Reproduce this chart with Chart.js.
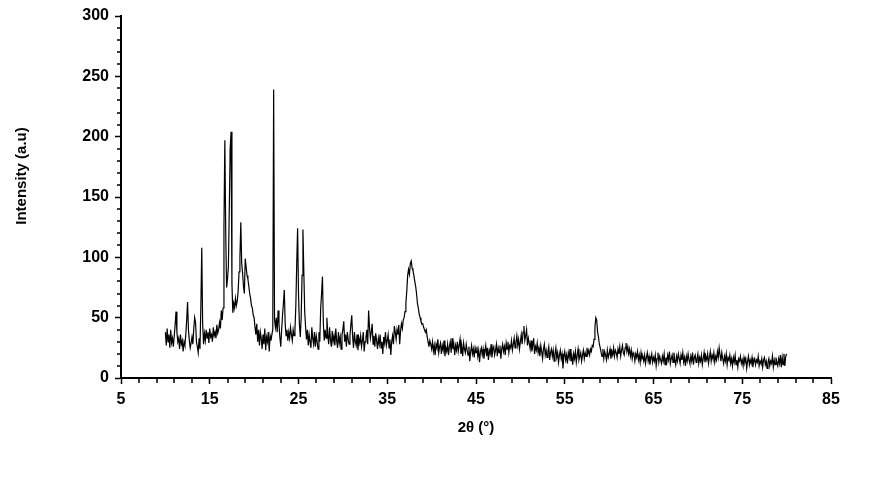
<!DOCTYPE html>
<html>
<head>
<meta charset="utf-8">
<script src="https://cdn.jsdelivr.net/npm/chart.js@4.4.1/dist/chart.umd.min.js"></script>
<style>
  html, body { margin: 0; padding: 0; background: #fff; }
  #wrap { width: 875px; height: 482px; }
</style>
</head>
<body>
<div id="wrap"><canvas id="xrd" width="875" height="482"></canvas></div>
<script>
// scan: 2theta from 10 to 80 deg, step 0.1
const scanStart = 10
const scanStep = 0.1

// intensity (a.u), one row per degree
const intensity = [
  38, 27, 41, 30, 36, 25, 40, 29, 33, 26,       // 10
  35, 44, 55, 38, 30, 33, 24, 36, 28, 31,       // 11
  22, 30, 27, 36, 48, 63, 40, 31, 25, 29,       // 12
  34, 28, 41, 50, 46, 30, 26, 21, 33, 24,       // 13
  60, 108, 45, 28, 37, 31, 40, 33, 38, 29,      // 14
  41, 34, 36, 30, 42, 35, 38, 33, 44, 37,       // 15
  40, 46, 41, 56, 48, 58, 125, 197, 120, 75,    // 16
  82, 92, 140, 190, 204, 78, 54, 62, 58, 66,    // 17
  60, 64, 72, 88, 100, 129, 95, 87, 76, 70,     // 18
  99, 92, 85, 82, 76, 70, 66, 60, 58, 52,       // 19
  50, 42, 36, 45, 30, 40, 27, 38, 33, 24,       // 20
  36, 28, 41, 23, 34, 30, 38, 22, 35, 31,       // 21
  36, 40, 239, 48, 42, 50, 38, 56, 45, 34,      // 22
  26, 40, 52, 62, 73, 45, 35, 40, 31, 38,       // 23
  33, 42, 36, 31, 40, 35, 40, 60, 95, 124,      // 24
  70, 45, 34, 50, 85, 123, 88, 55, 42, 32,      // 25
  40, 27, 36, 30, 25, 42, 33, 28, 38, 26,       // 26
  35, 30, 24, 38, 30, 58, 70, 84, 45, 31,       // 27
  40, 33, 50, 36, 28, 42, 32, 26, 39, 30,       // 28
  35, 27, 41, 31, 25, 38, 29, 34, 24, 36,       // 29
  40, 47, 30, 36, 26, 38, 32, 28, 35, 44,       // 30
  52, 34, 25, 38, 30, 27, 36, 23, 33, 29,       // 31
  35, 26, 31, 38, 22, 30, 34, 40, 28, 56,       // 32
  42, 33, 38, 45, 28, 35, 26, 37, 31, 24,       // 33
  33, 28, 36, 25, 30, 20, 34, 29, 38, 27,       // 34
  31, 36, 25, 32, 19, 30, 35, 28, 43, 38,       // 35
  32, 40, 36, 44, 28, 39, 45, 41, 48, 50,       // 36
  55, 62, 72, 85, 90, 86, 95, 97, 91, 89,       // 37
  85, 80, 76, 70, 62, 58, 53, 50, 47, 45,       // 38
  45, 42, 40, 38, 40, 34, 30, 26, 31, 28,       // 39
  24, 30, 22, 27, 19, 28, 25, 32, 21, 26,       // 40
  29, 20, 27, 23, 31, 18, 25, 22, 28, 19,       // 41
  26, 30, 21, 33, 24, 28, 19, 27, 23, 30,       // 42
  22, 27, 32, 20, 26, 18, 29, 24, 21, 28,       // 43
  23, 19, 26, 14, 22, 27, 20, 24, 17, 25,       // 44
  21, 26, 18, 23, 13, 22, 25, 19, 24, 16,       // 45
  22, 27, 18, 25, 15, 23, 20, 28, 17, 24,       // 46
  26, 19, 23, 28, 18, 25, 21, 27, 16, 24,       // 47
  28, 22, 26, 19, 29, 24, 30, 21, 27, 25,       // 48
  31, 23, 28, 33, 25, 29, 35, 27, 32, 24,       // 49
  30, 36, 28, 38, 43, 31, 35, 40, 27, 33,       // 50
  29, 24, 31, 22, 27, 33, 20, 26, 23, 29,       // 51
  21, 25, 18, 27, 22, 16, 24, 28, 19, 23,       // 52
  17, 22, 26, 15, 21, 24, 18, 23, 14, 20,       // 53
  25, 17, 21, 13, 19, 23, 16, 20, 8, 18,        // 54
  22, 15, 19, 12, 21, 17, 24, 14, 18, 11,       // 55
  20, 16, 22, 13, 19, 24, 15, 18, 21, 14,       // 56
  19, 23, 16, 21, 18, 25, 20, 23, 19, 24,       // 57
  22, 27, 26, 32, 42, 50, 48, 38, 34, 28,       // 58
  25, 21, 18, 24, 16, 22, 19, 15, 23, 17,       // 59
  20, 24, 16, 22, 19, 25, 18, 23, 21, 17,       // 60
  24, 20, 26, 18, 23, 27, 21, 19, 25, 29,       // 61
  22, 26, 20, 24, 18, 23, 16, 21, 19, 14,       // 62
  20, 17, 22, 15, 19, 13, 21, 16, 18, 14,       // 63
  19, 12, 17, 21, 14, 18, 11, 16, 20, 13,       // 64
  17, 14, 19, 10, 16, 21, 13, 18, 15, 12,       // 65
  18, 14, 20, 11, 17, 13, 19, 15, 22, 12,       // 66
  16, 19, 13, 21, 15, 11, 18, 14, 20, 16,       // 67
  12, 19, 15, 21, 13, 17, 10, 18, 14, 20,       // 68
  15, 12, 18, 14, 21, 11, 17, 19, 13, 16,       // 69
  20, 12, 17, 14, 19, 11, 16, 21, 13, 18,       // 70
  15, 20, 12, 17, 22, 14, 19, 16, 21, 13,       // 71
  18, 15, 22, 17, 25, 19, 14, 21, 16, 12,       // 72
  18, 14, 20, 11, 17, 15, 19, 12, 16, 10,       // 73
  17, 13, 19, 11, 15, 9, 16, 14, 18, 12,        // 74
  15, 10, 17, 13, 16, 8, 14, 18, 11, 15,        // 75
  12, 17, 9, 14, 16, 11, 15, 13, 18, 10,        // 76
  14, 12, 16, 9, 15, 17, 11, 14, 8, 13,         // 77
  16, 10, 14, 12, 18, 9, 15, 11, 17, 13,        // 78
  10, 16, 12, 19, 9, 17, 11, 20, 10, 18,        // 79
  20                                            // 80
]

const xMajorTicks = [5, 15, 25, 35, 45, 55, 65, 75, 85]
const yMajorTicks = [0, 50, 100, 150, 200, 250, 300]

const points = intensity.map((v, i) => ({ x: +(scanStart + i * scanStep).toFixed(1), y: v }))

const labelFont = { family: 'Liberation Sans, Arial, sans-serif', size: 16, weight: 'bold' }

// minor ticks + axis titles
const extras = {
  id: 'extras',
  afterDraw (chart) {
    const ctx = chart.ctx
    const xs = chart.scales.x
    const ys = chart.scales.y
    const area = chart.chartArea
    ctx.save()
    ctx.strokeStyle = '#000'
    ctx.lineWidth = 1.5
    ctx.beginPath()
    for (let v = 7; v < 85; v += 2) {
      if ((v - 5) % 10 === 0) continue
      const px = Math.round(xs.getPixelForValue(v))
      ctx.moveTo(px, area.bottom)
      ctx.lineTo(px, area.bottom + 5)
    }
    for (let v = 10; v < 300; v += 10) {
      if (v % 50 === 0) continue
      const py = Math.round(ys.getPixelForValue(v))
      ctx.moveTo(area.left, py)
      ctx.lineTo(area.left - 4, py)
    }
    ctx.stroke()

    ctx.fillStyle = '#000'
    ctx.font = 'bold 15px Liberation Sans, Arial, sans-serif'
    ctx.textAlign = 'center'
    ctx.textBaseline = 'middle'
    ctx.fillText('2θ (°)', (area.left + area.right) / 2, 428)
    ctx.translate(22, 176)
    ctx.rotate(-Math.PI / 2)
    ctx.fillText('Intensity (a.u)', 0, 0)
    ctx.restore()
  }
}

new Chart(document.getElementById('xrd').getContext('2d'), {
  type: 'line',
  data: {
    datasets: [{
      label: 'XRD',
      data: points,
      borderColor: '#000',
      borderWidth: 1.2,
      pointRadius: 0,
      lineTension: 0,
      fill: false
    }]
  },
  options: {
    responsive: false,
    animation: false,
    layout: { padding: { left: 0, top: 16, right: 44, bottom: 0 } },
    plugins: { legend: { display: false }, tooltip: { enabled: false } },
    scales: {
      x: {
        type: 'linear',
        min: 5,
        max: 85,
        afterBuildTicks: (s) => { s.ticks = xMajorTicks.map(v => ({ value: v })) },
        afterFit: (s) => { s.height = 104 },
        grid: { display: true, drawOnChartArea: false, drawTicks: true, tickLength: 6, tickWidth: 1.5, color: '#000' },
        border: { display: true, color: '#000', width: 2 },
        ticks: { color: '#000', font: labelFont, padding: 6, maxRotation: 0 }
      },
      y: {
        min: 0,
        max: 300,
        afterBuildTicks: (s) => { s.ticks = yMajorTicks.map(v => ({ value: v })) },
        afterFit: (s) => { s.width = 121 },
        grid: { display: true, drawOnChartArea: false, drawTicks: true, tickLength: 6, tickWidth: 1.5, color: '#000' },
        border: { display: true, color: '#000', width: 2 },
        ticks: { color: '#000', font: labelFont, padding: 6 }
      }
    }
  },
  plugins: [extras]
})
</script>
</body>
</html>
